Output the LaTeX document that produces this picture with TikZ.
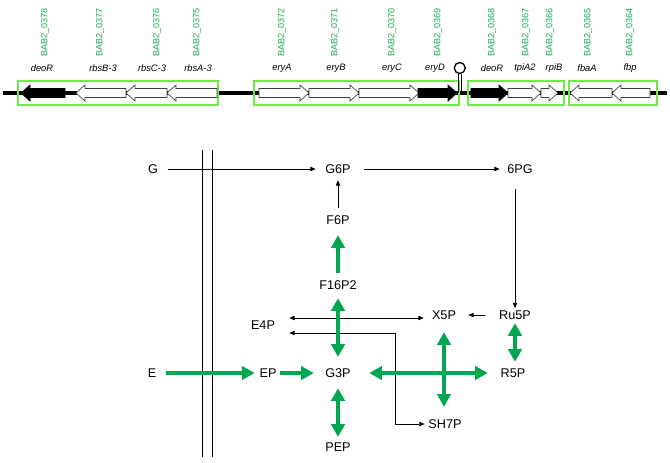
\documentclass[tikz,border=0pt]{standalone}
\usepackage{fontspec}
\setmainfont{Liberation Sans}
\usetikzlibrary{arrows.meta}
\definecolor{pathgreen}{RGB}{0,166,80}
\definecolor{labgreen}{RGB}{25,170,80}
\definecolor{boxgreen}{RGB}{110,235,70}
\newcommand\myGeneR[3]{\draw[#3] (#1,88.5) -- (#2-9,88.5) -- (#2-9,85) -- (#2,93) -- (#2-9,101) -- (#2-9,97.5) -- (#1,97.5) -- cycle;}
\newcommand\myGeneL[3]{\draw[#3] (#2,88.5) -- (#1+9,88.5) -- (#1+9,85) -- (#1,93) -- (#1+9,101) -- (#1+9,97.5) -- (#2,97.5) -- cycle;}
\begin{document}
\begin{tikzpicture}[x=0.75pt,y=-0.75pt,
  met/.style={font=\fontsize{9.5}{11}\selectfont, text height=6.8pt, text depth=0pt, inner xsep=7pt, inner ysep=3.5pt},
  thinarr/.style={line width=0.6pt, -{Triangle[length=4pt,width=3.2pt]}},
  thinboth/.style={line width=0.6pt, {Triangle[length=4pt,width=3.2pt]}-{Triangle[length=4pt,width=3.2pt]}},
  garr/.style={draw=pathgreen, line width=3.3pt, -{Triangle[length=9.5pt,width=10pt]}},
  gboth/.style={draw=pathgreen, line width=3.3pt, {Triangle[length=9.5pt,width=10pt]}-{Triangle[length=9.5pt,width=10pt]}},
  genelab/.style={font=\fontsize{7}{8}\selectfont\itshape, inner sep=0pt},
  bab/.style={font=\fontsize{6.8}{7}\selectfont, text=labgreen, rotate=90, anchor=west, inner sep=0pt},
  whitegene/.style={fill=white, draw=black!75, line width=0.5pt},
  blackgene/.style={fill=black, draw=black, line width=0.5pt}
]
\fill[white] (0,0) rectangle (670,462);
\useasboundingbox (0,0) rectangle (670,462);

% genome line
\draw[line width=2.6pt] (3,93) -- (667,93);
% operon boxes
\draw[boxgreen, line width=1.6pt] (18,81) rectangle (218,105);
\draw[boxgreen, line width=1.6pt] (254,81) rectangle (459,105);
\draw[boxgreen, line width=1.6pt] (468,81) rectangle (564,105);
\draw[boxgreen, line width=1.6pt] (569,81) rectangle (657,105);
% genes
\myGeneL{21}{65}{blackgene}
\myGeneL{76}{126}{whitegene}
\myGeneL{126}{167}{whitegene}
\myGeneL{167}{217}{whitegene}
\myGeneR{259}{309}{whitegene}
\myGeneR{309}{359}{whitegene}
\myGeneR{359}{419}{whitegene}
\myGeneR{418}{457}{blackgene}
\myGeneR{471}{508}{blackgene}
\myGeneR{508}{541}{whitegene}
\myGeneR{541}{558}{whitegene}
\myGeneL{570}{612}{whitegene}
\myGeneL{612}{650}{whitegene}
% terminator
\draw[line width=0.6pt] (458.5,93) -- (458.5,73.5) (461,93) -- (461,73.5);
\draw[line width=1pt, fill=white] (459.75,68) circle (5.5);

% gene names
\node[genelab] (n1) at (42,68) {deoR};
\node[genelab] (n2) at (103,68) {rbsB-3};
\node[genelab] (n3) at (152,68) {rbsC-3};
\node[genelab] (n4) at (198,68) {rbsA-3};
\node[genelab] (n5) at (282,68) {eryA};
\node[genelab] (n6) at (336,68) {eryB};
\node[genelab] (n7) at (392,68) {eryC};
\node[genelab] (n8) at (435,68) {eryD};
\node[genelab] (n9) at (492,68) {deoR};
\node[genelab] (n10) at (525,68) {tpiA2};
\node[genelab] (n11) at (554,68) {rpiB};
\node[genelab] (n12) at (587,68) {fbaA};
\node[genelab] (n13) at (630,68) {fbp};
% locus tags
\node[bab] (b1) at (45,57) {BAB2\_0378};
\node[bab] (b2) at (100,57) {BAB2\_0377};
\node[bab] (b3) at (157,57) {BAB2\_0376};
\node[bab] (b4) at (197,57) {BAB2\_0375};
\node[bab] (b5) at (282,57) {BAB2\_0372};
\node[bab] (b6) at (335,57) {BAB2\_0371};
\node[bab] (b7) at (392,57) {BAB2\_0370};
\node[bab] (b8) at (438,57) {BAB2\_0369};
\node[bab] (b9) at (492,57) {BAB2\_0368};
\node[bab] (b10) at (526,57) {BAB2\_0367};
\node[bab] (b11) at (550,57) {BAB2\_0366};
\node[bab] (b12) at (588,57) {BAB2\_0365};
\node[bab] (b13) at (630,57) {BAB2\_0364};

% membrane
\draw[line width=0.6pt] (202,150) -- (202,457) (212,150) -- (212,457);

% metabolites
\node[met] (G) at (153,169) {G};
\node[met] (G6P) at (338,169) {G6P};
\node[met] (PG6) at (520,169) {6PG};
\node[met] (F6P) at (338,220) {F6P};
\node[met] (F16P2) at (338,285) {F16P2};
\node[met] (E4P) at (263,325) {E4P};
\node[met] (X5P) at (444,315) {X5P};
\node[met] (Ru5P) at (515,315) {Ru5P};
\node[met] (E) at (152,373) {E};
\node[met] (EP) at (268,373) {EP};
\node[met] (G3P) at (338,373) {G3P};
\node[met] (R5P) at (513,373) {R5P};
\node[met] (SH7P) at (445,424) {SH7P};
\node[met] (PEP) at (338,447) {PEP};

% thin connectors
\draw[thinarr] (G) -- (G6P);
\draw[thinarr, shorten <=3pt, shorten >=-1.5pt] (G6P) -- (PG6);
\draw[thinarr, shorten <=8pt, shorten >=-2pt] (Ru5P.north |- PG6.south) -- (Ru5P.north);
\draw[thinarr, shorten <=2pt, shorten >=1.3pt] (F6P) -- (G6P);
\coordinate (e4a) at ([yshift=5.25pt]E4P.east);
\draw[thinboth, shorten <=3.5pt, shorten >=-1pt] (e4a) -- (e4a -| X5P.west);
\coordinate (e4b) at ([yshift=-6pt]E4P.east);
\coordinate (bend) at (395,0);
\draw[thinboth, shorten <=3.5pt, shorten >=-4.3pt] (e4b) -- (e4b -| bend) |- (SH7P.west);
\draw[thinarr, shorten <=3.75pt, shorten >=2pt] (Ru5P) -- (X5P);

% green connectors
\draw[garr, shorten <=2pt, shorten >=4.3pt] (F16P2) -- (F6P);
\draw[gboth, shorten <=2.8pt, shorten >=5pt] (F16P2) -- (G3P);
\draw[gboth, shorten <=4.3pt, shorten >=0.5pt] (G3P) -- (PEP);
\draw[garr, shorten >=-3.5pt] (E) -- (EP);
\draw[garr, shorten <=-4.3pt, shorten >=1.5pt] (EP) -- (G3P);
\draw[gboth, shorten <=6.75pt, shorten >=2.5pt] (G3P) -- (R5P);
\draw[gboth, shorten <=5.8pt, shorten >=5.8pt] (X5P.south) -- (X5P.south |- SH7P.north);
\draw[gboth, shorten <=-1pt, shorten >=1.3pt] (Ru5P.south) -- (Ru5P.south |- R5P.north);
\end{tikzpicture}
\end{document}
